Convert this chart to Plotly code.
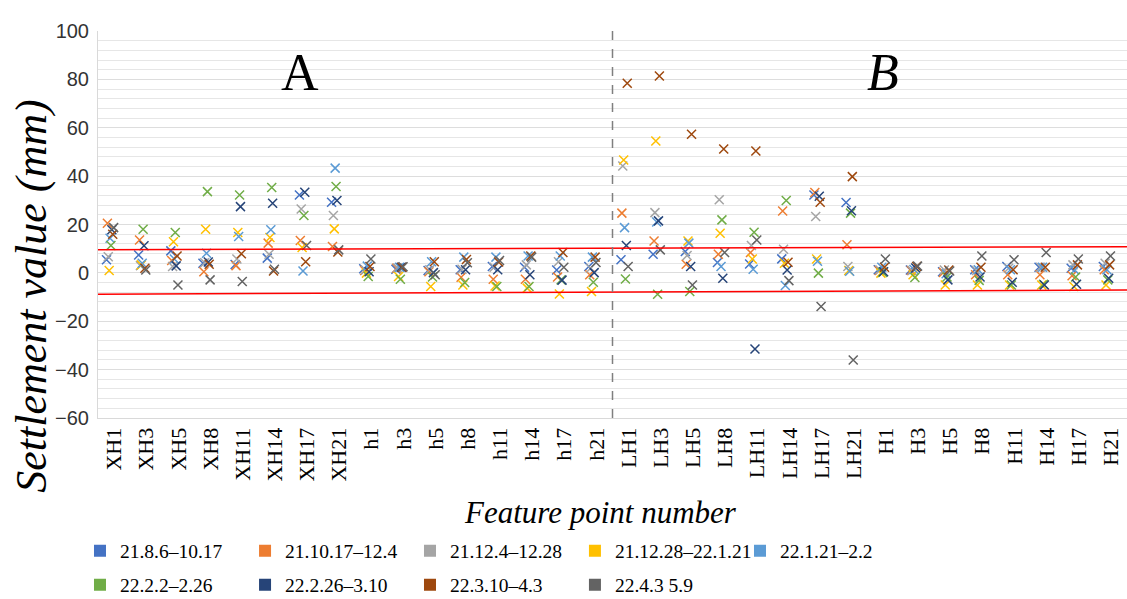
import plotly.graph_objects as go

categories = ["XH1","XH3","XH5","XH8","XH11","XH14","XH17","XH21",
              "h1","h3","h5","h8","h11","h14","h17","h21",
              "LH1","LH3","LH5","LH8","LH11","LH14","LH17","LH21",
              "H1","H3","H5","H8","H11","H14","H17","H21"]

series_names = ["21.8.6–10.17", "21.10.17–12.4", "21.12.4–12.28", "21.12.28–22.1.21",
                "22.1.21–2.2", "22.2.2–2.26", "22.2.26–3.10", "22.3.10–4.3", "22.4.3 5.9"]

s1 = [5.4, 7.4, 9.1, 4.0, 3.5, 6.1, 32.2, 29.2, 1.7, 1.5, 1.0, 1.3, 2.6, 2.3, 1.2, 2.6,
      5.4, 7.7, 8.8, 4.3, 3.7, 5.8, 32.2, 29.1, 1.3, 1.2, 0.5, 1.3, 2.6, 2.3, 1.9, 2.6]
s2 = [20.5, 13.6, 5.1, 0.5, 3.0, 12.3, 13.4, 10.9, 1.0, 1.9, 0.5, -1.8, -2.6, -2.6, -1.7, -0.8,
      24.7, 13.2, 3.6, 7.7, 8.4, 25.6, 33.2, 11.6, 1.0, 1.0, 0.2, -0.8, -0.8, -0.8, -1.2, 1.3]
s3 = [6.7, 3.0, 2.6, 4.2, 5.7, 7.7, 26.4, 23.7, 1.2, 2.0, 1.3, 1.5, 2.3, 3.3, 4.6, 1.9,
      44.2, 24.9, 7.2, 30.2, 11.3, 9.8, 23.3, 2.6, 1.2, 1.0, 1.2, 1.0, 1.9, 2.3, 3.3, 4.0]
s4 = [1.0, 3.3, 12.9, 18.0, 16.7, 14.6, 10.5, 18.2, -0.1, -1.5, -5.6, -5.0, -5.4, -6.3, -8.7, -7.7,
      46.7, 54.5, 13.2, 16.4, 5.7, 4.0, 5.7, 1.0, -0.1, -0.8, -5.0, -5.0, -5.0, -5.0, -5.6, -5.0]
s5 = [14.3, 4.0, 5.7, 8.1, 15.0, 17.8, 0.8, 43.3, 2.8, 2.3, 4.6, 6.5, 6.5, 7.0, 7.0, 6.5,
      18.7, 21.0, 12.3, 2.6, 1.5, -5.2, 4.8, 0.7, 2.3, 1.4, -0.4, 1.3, 1.3, 2.3, 1.2, 1.3]
s6 = [11.3, 18.0, 16.7, 33.6, 32.2, 35.3, 23.7, 35.7, -1.5, -2.6, -1.7, -4.0, -5.6, -5.6, -2.9, -3.9,
      -2.5, -8.8, -7.7, 21.9, 16.8, 29.9, -0.1, 24.7, 0.2, -1.9, -1.7, -3.1, -5.0, -4.7, -1.7, -2.9]
s7 = [17.8, 11.2, 2.9, 4.5, 27.4, 28.8, 33.3, 29.9, 0.5, 2.3, 0.1, 1.3, 1.3, -0.8, -3.0, 0.1,
      11.3, 21.5, 2.6, -2.2, -31.5, 1.2, 31.7, 25.7, 0.5, 2.0, -2.9, -1.7, -3.9, -5.0, -4.7, -2.2]
s8 = [16.0, 1.9, 7.0, 3.6, 7.9, 0.8, 4.6, 8.6, 2.6, 2.3, 4.6, 5.5, 4.5, 7.0, 8.4, 6.5,
      78.4, 81.4, 57.3, 51.2, 50.4, 4.4, 29.2, 39.8, 2.3, 2.6, 1.2, 2.3, 1.3, 2.3, 3.3, 3.3]
s9 = [18.7, 1.2, -5.0, -2.9, -3.6, 1.5, 11.3, 9.5, 5.7, 2.5, -0.8, 4.2, 5.1, 6.5, 2.3, 4.3,
      2.6, 9.5, -5.0, 8.4, 13.6, -3.2, -13.9, -36.0, 5.7, 2.8, 0.8, 7.0, 5.4, 8.4, 5.7, 7.0]

all_series = [s1, s2, s3, s4, s5, s6, s7, s8, s9]
colors = ["#4472C4", "#ED7D31", "#A5A5A5", "#FFC000", "#5B9BD5",
          "#70AD47", "#264478", "#9E480E", "#636363"]

# limit lines (value at left and right edge)
upper_limit = [9.6, 10.8]
lower_limit = [-8.8, -7.1]

serif = "Liberation Serif, Times New Roman, serif"
sans = "Liberation Sans, Arial, sans-serif"

fig = go.Figure()
for name, vals, c in zip(series_names, all_series, colors):
    fig.add_trace(go.Scatter(
        x=categories, y=vals, mode="markers", name=name, showlegend=False,
        marker=dict(symbol="x-thin", size=9, color=c, line=dict(width=1.5, color=c)),
    ))

# legend: 5 columns in first row, 4 in second row, one small legend per entry
col_x = [-0.0175, 0.1429, 0.3032, 0.4635, 0.6239]
row_y = [-0.3437, -0.4315]
legend_layouts = {}
for i, (name, c) in enumerate(zip(series_names, colors)):
    key = "legend" if i == 0 else f"legend{i+1}"
    fig.add_trace(go.Scatter(
        x=[None], y=[None], mode="markers", name=name, legend=key,
        marker=dict(symbol="square", size=8, color=c),
    ))
    row, col = divmod(i, 5)
    legend_layouts[key] = dict(
        orientation="h", x=col_x[col], xanchor="left", y=row_y[row], yanchor="middle",
        font=dict(family=serif, size=19.5, color="black"), bgcolor="rgba(0,0,0,0)",
        itemsizing="constant",
    )

fig.add_shape(type="line", xref="paper", yref="y", x0=0, x1=1,
              y0=upper_limit[0], y1=upper_limit[1], line=dict(color="#FF0000", width=1.5))
fig.add_shape(type="line", xref="paper", yref="y", x0=0, x1=1,
              y0=lower_limit[0], y1=lower_limit[1], line=dict(color="#FF0000", width=1.5))
fig.add_shape(type="line", xref="x", yref="paper", x0=15.5, x1=15.5, y0=0, y1=1,
              line=dict(color="#7F7F7F", width=1.5, dash="dash"))

fig.add_annotation(text="A", xref="paper", yref="y", x=0.196, y=83, showarrow=False,
                   xanchor="center", yanchor="middle",
                   font=dict(family=serif, size=52, color="black"))
fig.add_annotation(text="<i>B</i>", xref="paper", yref="y", x=0.763, y=83, showarrow=False,
                   xanchor="center", yanchor="middle",
                   font=dict(family=serif, size=52, color="black"))
# axis titles
fig.add_annotation(text="<i>Settlement value (mm)</i>", xref="paper", yref="paper",
                   x=-0.0655, y=0.315, textangle=-90, showarrow=False,
                   xanchor="center", yanchor="middle",
                   font=dict(family=serif, size=44, color="black"))
fig.add_annotation(text="<i>Feature point number</i>", xref="paper", yref="paper",
                   x=0.488, y=-0.243, showarrow=False,
                   xanchor="center", yanchor="middle",
                   font=dict(family=serif, size=31, color="black"))

fig.update_layout(
    width=1127, height=599,
    margin=dict(l=98, r=0, t=31, b=181, autoexpand=False),
    paper_bgcolor="white", plot_bgcolor="white",
    scattermode="group", scattergap=0.5,
    xaxis=dict(
        type="category", range=[-0.5, 31.5],
        tickangle=-90, tickfont=dict(family=serif, size=22, color="black"),
        showgrid=False, showline=True, linecolor="#D9D9D9", linewidth=1,
        ticks="",
    ),
    yaxis=dict(
        range=[-60, 100], dtick=20, tick0=0,
        tickfont=dict(family=sans, size=20, color="#333333"),
        showgrid=True, gridcolor="#DDDDDD", gridwidth=1,
        minor=dict(dtick=4, showgrid=True, gridcolor="#E6E6E6", gridwidth=1),
        zeroline=False, showline=True, linecolor="#D9D9D9", linewidth=1,
        ticks="", ticklabelstandoff=4,
    ),
    **legend_layouts,
)

fig.write_html("out.html")
